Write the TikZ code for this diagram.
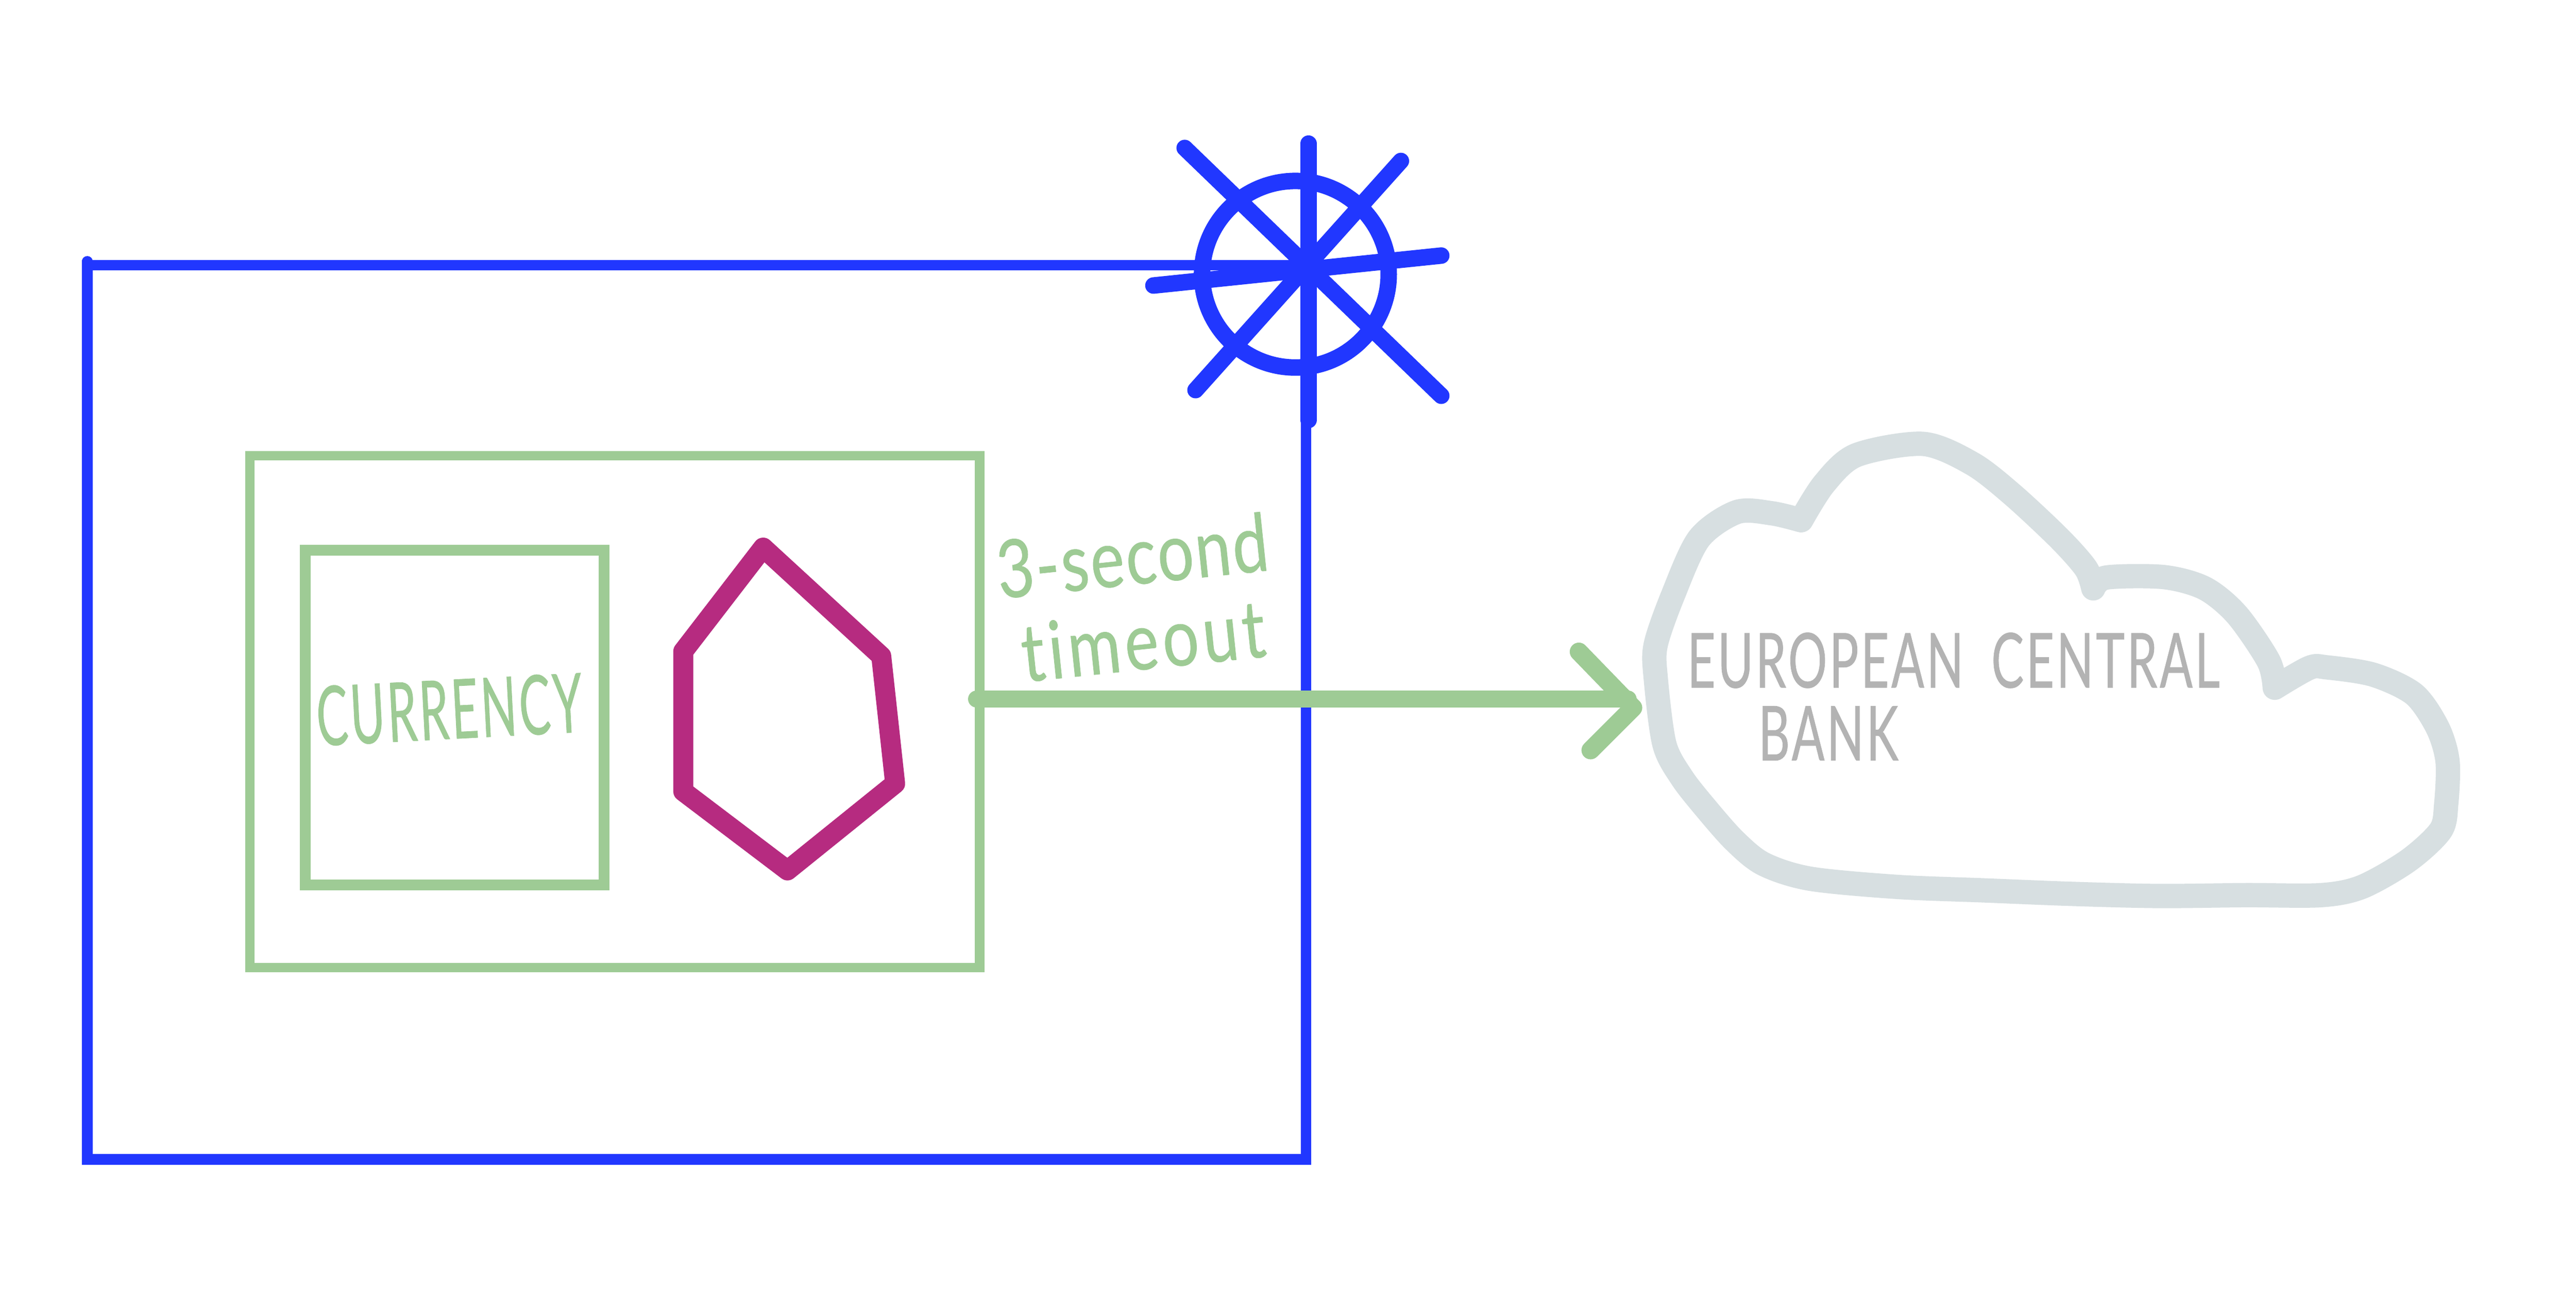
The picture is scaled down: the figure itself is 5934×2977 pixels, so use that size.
\documentclass[tikz,border=0pt]{standalone}
\usepackage{fontspec}
\setmainfont{Lato}
\newfontfamily\handfont[FakeStretch=0.8,LetterSpace=5,FakeBold=0.5,Ligatures=NoCommon]{Lato}
\newfontfamily\capsfont[FakeStretch=0.64,LetterSpace=3,FakeBold=0.5]{Lato}
\usetikzlibrary{positioning}
\definecolor{frameblue}{HTML}{2137FF}
\definecolor{softgreen}{HTML}{9ECB95}
\definecolor{plum}{HTML}{B62B80}
\definecolor{cloudgrey}{HTML}{D7DFE1}
\definecolor{textgrey}{HTML}{B3B3B3}
\tikzset{
  framebox/.style={draw=frameblue,line width=2.4pt,minimum width=280.8pt,minimum height=206.1pt,inner sep=0pt,outer sep=0pt},
  greenbox/.style={draw=softgreen,inner sep=0pt},
  spoke/.style={draw=frameblue,line width=3.8pt,line cap=round},
  cloudline/.style={draw=cloudgrey,line width=5.6pt,line cap=round,line join=round},
  handlabel/.style={text=softgreen,font=\handfont\fontsize{18.5}{20}\selectfont,inner sep=0pt},
  banklabel/.style={text=textgrey,font=\capsfont\fontsize{17.5}{20}\selectfont,inner sep=0pt},
}
\begin{document}
\begin{tikzpicture}[x=0.1pt,y=-0.1pt]
\path[use as bounding box,fill=white] (0,0) rectangle (5934,2977);

% Boxes
\node (frame) [framebox] at (1605,1641.5) {};
\draw[frameblue,line width=2.4pt,line cap=round] (frame.north west)--([yshift=0.9pt]frame.north west);
\node (outer) [greenbox,line width=2.2pt,minimum width=168.1pt,minimum height=118pt] at (1416,1640) {};
\node (currency) [greenbox,line width=2.5pt,minimum width=68.8pt,minimum height=77.2pt] at (1047,1654) {};
\node (currencytext) [text=softgreen,font=\capsfont\fontsize{19}{21}\selectfont,inner sep=0pt,rotate=3] at (1035,1635) {\addfontfeature{FakeStretch=0.57}CURRENCY};

% Hexagon
\draw[plum,line width=4.6pt,line join=round] (1758,1262)--(2030,1512)--(2062,1806)--(1814,2006)--(1574,1824)--(1574,1501)--cycle;

% Star
\node (wheel) [draw=frameblue,line width=3.8pt,circle,minimum size=43pt,inner sep=0pt] at (2984,632) {};
\draw[spoke] (3014,331)--(3014,968);
\draw[spoke] (2729,341)--(3320,912);
\draw[spoke] (3227,371)--(2754,899);
\draw[spoke] (2657,658)--(3320,589);

% Cloud
\draw[cloudline] plot[smooth,tension=.5] coordinates {(4149,1199) (4202,1115) (4276,1049) (4430,1023) (4544,1069) (4637,1141) (4744,1241) (4805,1310) (4822,1356)}
  plot[smooth,tension=.5] coordinates {(4822,1356) (4852,1331) (4985,1330) (5079,1356) (5153,1417) (5226,1524) (5240,1585)}
  plot[smooth,tension=.5] coordinates {(5240,1585) (5320,1539) (5360,1538) (5467,1555) (5561,1600) (5615,1677) (5638,1754) (5635,1853) (5622,1914) (5548,1983) (5441,2044) (5347,2063) (5173,2063) (4972,2065) (4771,2060) (4570,2052) (4370,2044) (4169,2025) (4062,1991) (3995,1937) (3928,1861) (3874,1792) (3834,1715) (3814,1562) (3814,1486) (3854,1371) (3914,1241) (4001,1180) (4082,1183) (4149,1199)};
\node (ecb) [banklabel] at (4500,1522) {EUROPEAN\hspace{3pt} CENTRAL};
\node (bank) [banklabel] at (4212,1690) {BANK};

% Arrow
\coordinate (start) at (2250,1611);
\coordinate (tip) at (3762,1631);
\draw[softgreen,line width=4pt,line cap=round] (start)--(3750,1611);
\draw[softgreen,line width=4.2pt,line cap=round,line join=round] (3637,1502)--(tip)--(3664,1729);
\node (second) [handlabel,rotate=6] at (2608,1280) {\addfontfeature{LetterSpace=2}3-second};
\node (timeout) [handlabel,rotate=6] at (2633,1476) {timeout};
\end{tikzpicture}
\end{document}
